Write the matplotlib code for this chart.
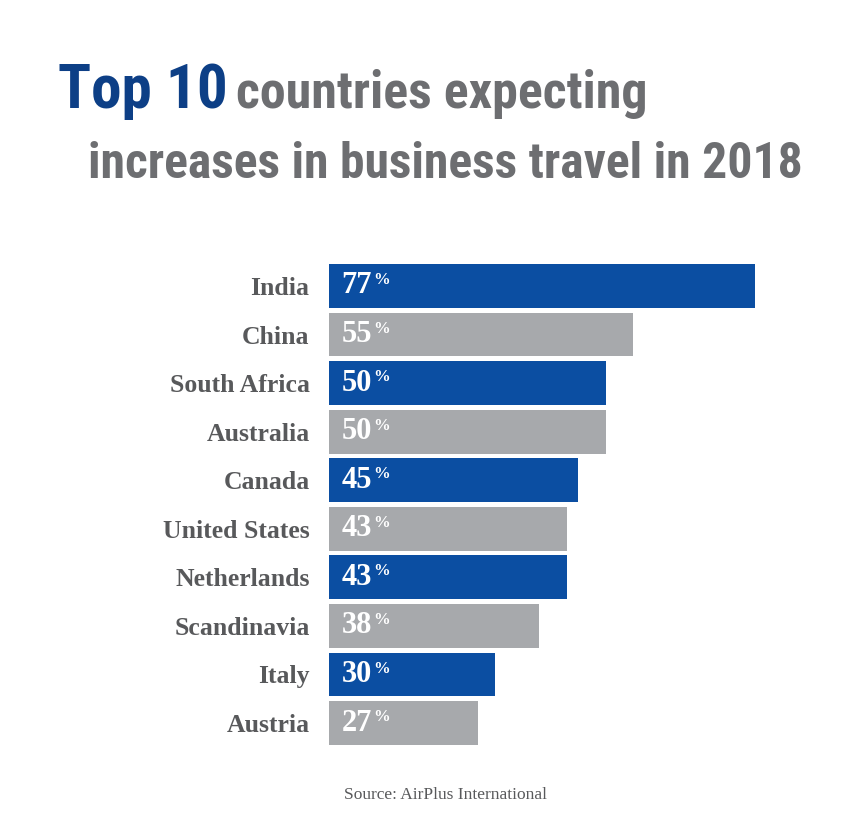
import matplotlib
matplotlib.use("Agg")
import matplotlib.pyplot as plt
from matplotlib import font_manager

# Data
countries = ["India", "China", "South Africa", "Australia", "Canada",
             "United States", "Netherlands", "Scandinavia", "Italy", "Austria"]
values = [77, 55, 50, 50, 45, 43, 43, 38, 30, 27]

blue = "#0b4ea2"
gray = "#a7a9ac"
title_blue = "#0d3f86"
title_gray = "#6d6e71"
label_gray = "#58595b"
colors = [blue if i % 2 == 0 else gray for i in range(len(values))]

# pick a narrow font for the title if there is one
names = {f.name for f in font_manager.fontManager.ttflist}
title_font = "Roboto"
for cand in ["DejaVu Sans Condensed", "Liberation Sans Narrow", "Roboto Condensed",
             "Open Sans Condensed", "Noto Sans Condensed"]:
    if cand in names:
        title_font = cand
        break

fig = plt.figure(figsize=(8.5, 8.25), dpi=100)
ax = fig.add_axes([0.387, 0.0942, 0.521, 0.5886])

ypos = list(range(len(countries)))
ax.barh(ypos, values, height=0.9, color=colors)
ax.set_xlim(0, 80)
ax.set_ylim(len(countries) - 0.5, -0.5)
ax.set_yticks(ypos)
ax.set_yticklabels(countries, fontfamily="Liberation Serif", fontweight="bold",
                   fontsize=18.5, color=label_gray)
ax.tick_params(axis="y", length=0, pad=14)
ax.set_xticks([])
for s in ax.spines.values():
    s.set_visible(False)

renderer = fig.canvas.get_renderer()

# value labels inside bars, with a small raised percent sign
for y, v in zip(ypos, values):
    t = ax.annotate(str(v), (0, y), xytext=(9, 0), textcoords="offset points",
                    ha="left", va="center", color="white", fontsize=22,
                    fontfamily="Liberation Serif", fontweight="bold")
    bb = t.get_window_extent(renderer)
    x_end = ax.transAxes.inverted().transform((bb.x1, 0))[0]
    ax.text(x_end + 0.004, y - 0.12, "%", transform=ax.get_yaxis_transform(),
            ha="left", va="center", color="white", fontsize=12,
            fontfamily="Liberation Serif", fontweight="bold")


def fitted_text(x0, base_y, s, width_px, color, size=40):
    # shrink/grow the font so the text spans the same width as in the original
    t = fig.text(x0 / 850, 1 - base_y / 825, s, fontsize=size, fontweight="bold",
                 color=color, family=title_font, ha="left", va="baseline")
    w = t.get_window_extent(renderer).width
    t.set_fontsize(size * width_px / w)
    return t


fitted_text(58, 108, "Top 10", 170, title_blue, size=60)
fitted_text(236, 108, "countries expecting", 410, title_gray)
fitted_text(88, 178, "increases in business travel in 2018", 715, title_gray)

fig.text(445 / 850, 1 - 795 / 825, "Source: AirPlus International", fontsize=12.5,
         color=label_gray, family="Liberation Serif", ha="center", va="center")

fig.savefig("out.png", dpi=100, facecolor="white")
